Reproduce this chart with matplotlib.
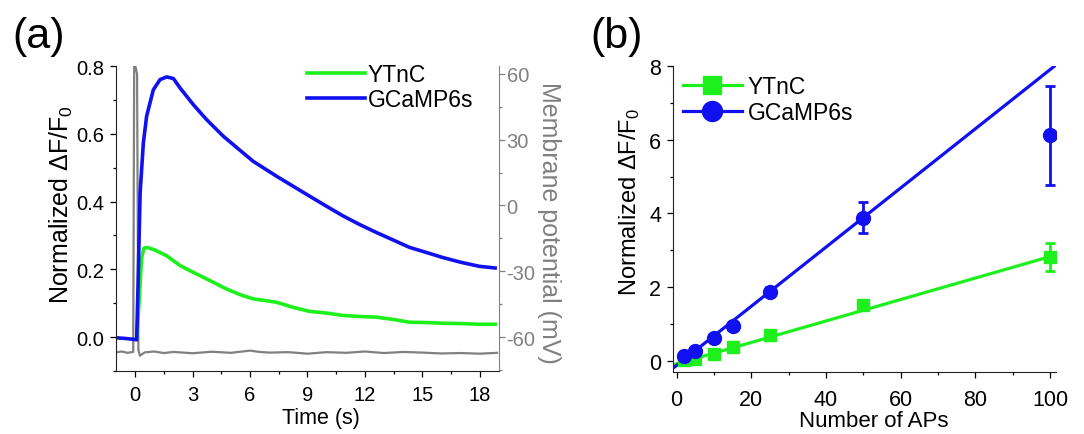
import numpy as np
import matplotlib
matplotlib.use('Agg')
import matplotlib.pyplot as plt
from matplotlib.ticker import MultipleLocator

plt.rcParams['font.family'] = ['Liberation Sans', 'DejaVu Sans']
plt.rcParams['mathtext.fontset'] = 'custom'
plt.rcParams['mathtext.rm'] = 'Liberation Sans'
plt.rcParams['mathtext.it'] = 'Liberation Sans:italic'
plt.rcParams['mathtext.bf'] = 'Liberation Sans:bold'
plt.rcParams['axes.unicode_minus'] = False

GREEN = '#1ef01e'
BLUE = '#1010f0'
GRAY = '#808080'

# ---- panel (a): averaged traces ----
t_gcamp = [-1.0, -0.5, 0.0, 0.08, 0.15, 0.26, 0.43, 0.6, 0.95, 1.3, 1.65, 2.0,
           2.35, 3.04, 3.73, 4.6, 5.4, 6.16, 7.38, 8.2, 9.11, 10.0, 10.85,
           11.7, 12.59, 13.5, 14.32, 15.2, 16.06, 17.0, 17.97, 18.8]
v_gcamp = [-0.002, -0.004, -0.007, -0.008, 0.15, 0.426, 0.574, 0.652, 0.73, 0.76,
           0.768, 0.763, 0.735, 0.686, 0.642, 0.593, 0.555, 0.519, 0.475, 0.447,
           0.416, 0.386, 0.358, 0.333, 0.309, 0.286, 0.265, 0.25, 0.235, 0.221,
           0.209, 0.204]

t_ytnc = [0.08, 0.2, 0.33, 0.45, 0.6, 1.0, 1.65, 2.35, 3.04, 3.9, 4.77, 5.5,
          6.16, 7.38, 8.24, 9.11, 10.0, 10.85, 11.7, 12.59, 13.5, 14.32, 15.2,
          16.06, 17.0, 17.97, 18.8]
v_ytnc = [-0.005, 0.1, 0.23, 0.262, 0.265, 0.258, 0.24, 0.211, 0.191, 0.167,
          0.142, 0.125, 0.113, 0.103, 0.088, 0.076, 0.071, 0.064, 0.061, 0.059,
          0.052, 0.044, 0.043, 0.041, 0.040, 0.038, 0.038]

t_vm = [-1.0, -0.7, -0.4, -0.1, -0.05, 0.0, 0.1, 0.17, 0.25, 0.5, 1.0, 1.5, 2.0,
        3.0, 4.0, 5.0, 6.0, 6.5, 7.0, 8.0, 9.0, 10.0, 11.0, 12.0, 13.0, 14.0,
        15.0, 16.0, 17.0, 18.0, 18.9]
v_vm = [-67.0, -66.6, -67.2, -66.8, 64.0, 64.0, 60.0, -66.0, -68.5, -67.0, -66.6,
        -67.3, -66.8, -67.4, -66.7, -67.2, -66.2, -66.8, -67.1, -66.9, -67.6,
        -66.9, -67.2, -66.6, -67.3, -66.8, -67.1, -67.5, -67.3, -67.6, -67.2]

# ---- panel (b): peak response vs number of APs ----
n_aps = [2, 5, 10, 15, 25, 50, 100]
ytnc_mean = [0.03, 0.06, 0.18, 0.38, 0.70, 1.52, 2.83]
ytnc_err = [0.03, 0.04, 0.06, 0.08, 0.08, 0.10, 0.38]
gcamp_mean = [0.14, 0.27, 0.61, 0.95, 1.88, 3.89, 6.12]
gcamp_err = [0.05, 0.06, 0.08, 0.10, 0.12, 0.41, 1.34]
# linear fits (slope, intercept) and their drawn x range
ytnc_fit = [0.0291, -0.08]
gcamp_fit = [0.0802, -0.12]
ytnc_fit_range = [-0.7, 100]
gcamp_fit_range = [-0.5, 102]

TICK = 14.5
LAB = 15.5
LEG = 16.5

fig = plt.figure(figsize=(10.84, 4.35), dpi=100)

# ---------------- (a) ----------------
ax = fig.add_axes([0.107, 0.1448, 0.3533, 0.7011])
axr = ax.twinx()
ax.set_zorder(axr.get_zorder() + 1)
ax.patch.set_visible(False)

axr.plot(t_vm, v_vm, color=GRAY, lw=1.6)
ax.plot(t_ytnc, v_ytnc, color=GREEN, lw=2.6, label='YTnC')
ax.plot(t_gcamp, v_gcamp, color=BLUE, lw=2.6, label='GCaMP6s')

ax.set_xlim(-1, 19)
ax.set_ylim(-0.1, 0.8)
axr.set_ylim(-75.5, 63.6)
ax.xaxis.set_major_locator(MultipleLocator(3))
ax.xaxis.set_minor_locator(MultipleLocator(1.5))
ax.yaxis.set_major_locator(MultipleLocator(0.2))
ax.yaxis.set_minor_locator(MultipleLocator(0.1))
axr.yaxis.set_major_locator(MultipleLocator(30))
axr.yaxis.set_minor_locator(MultipleLocator(15))
ax.yaxis.set_major_formatter(plt.FuncFormatter(lambda v, p: f'{v:.1f}'))

for a in (ax, axr):
    a.spines['top'].set_visible(False)
ax.spines['right'].set_visible(False)
axr.spines['left'].set_visible(False)
axr.spines['bottom'].set_visible(False)
axr.spines['right'].set_color(GRAY)
for s in ('left', 'bottom'):
    ax.spines[s].set_color('#222222')
ax.tick_params(which='major', length=4.5, width=0.9, labelsize=TICK, pad=4)
ax.tick_params(which='minor', length=2.5, width=0.9)
ax.tick_params(axis='x', pad=5.5)
axr.tick_params(which='major', length=4.5, width=0.9, labelsize=TICK,
                colors=GRAY, labelcolor=GRAY, pad=1)
axr.tick_params(which='minor', length=2.5, width=0.9, colors=GRAY)

ax.set_xlabel('Time (s)', fontsize=LAB)
ax.xaxis.set_label_coords(0.535, -0.118)
ax.set_ylabel(r'Normalized $\Delta$F/F$_0$', fontsize=18)
ax.yaxis.set_label_coords(-0.108, 0.55)
# right-hand axis title, placed by hand next to the gray tick labels
fig.text(0.5065, 0.487, 'Membrane potential (mV)', fontsize=18, color=GRAY,
         rotation=270, ha='center', va='center')

ax.legend(loc='upper left', bbox_to_anchor=(0.4987, 1.01), frameon=False,
          fontsize=LEG, handlelength=2.55, handletextpad=0.1,
          labelspacing=0.1, borderpad=0, borderaxespad=0)

fig.text(0.011, 0.915, '(a)', fontsize=31, va='center', ha='left')

# ---------------- (b) ----------------
bx = fig.add_axes([0.6208, 0.1425, 0.3533, 0.7034])

xf = np.array(ytnc_fit_range)
bx.plot(xf, ytnc_fit[0] * xf + ytnc_fit[1], color=GREEN, lw=2.3, zorder=2)
xf = np.array(gcamp_fit_range)
bx.plot(xf, gcamp_fit[0] * xf + gcamp_fit[1], color=BLUE, lw=2.3, zorder=2)

bx.errorbar(n_aps, ytnc_mean, yerr=ytnc_err, fmt='s', color=GREEN, ms=9,
            elinewidth=2, capsize=3.5, capthick=2, zorder=3)
bx.errorbar(n_aps, gcamp_mean, yerr=gcamp_err, fmt='o', color=BLUE, ms=10,
            elinewidth=2, capsize=3.5, capthick=2, zorder=4)

bx.set_xlim(-1, 101.6)
bx.set_ylim(-0.3, 8)
bx.xaxis.set_major_locator(MultipleLocator(20))
bx.xaxis.set_minor_locator(MultipleLocator(10))
bx.yaxis.set_major_locator(MultipleLocator(2))
bx.yaxis.set_minor_locator(MultipleLocator(1))
bx.spines['top'].set_visible(False)
bx.spines['right'].set_visible(False)
for s in ('left', 'bottom'):
    bx.spines[s].set_color('#222222')
bx.tick_params(which='major', length=4.5, width=0.9, labelsize=15.5, pad=4)
bx.tick_params(which='minor', length=2.5, width=0.9)
bx.tick_params(axis='x', pad=8)
bx.set_xlabel('Number of APs', fontsize=16)
bx.xaxis.set_label_coords(0.525, -0.125)
bx.set_ylabel(r'Normalized $\Delta$F/F$_0$', fontsize=17)
bx.yaxis.set_label_coords(-0.08, 0.56)

h1, = bx.plot([], [], '-s', color=GREEN, lw=2.3, ms=13.4)
h2, = bx.plot([], [], '-o', color=BLUE, lw=2.3, ms=14.4)
bx.legend([h1, h2], ['YTnC', 'GCaMP6s'], loc='upper left',
          bbox_to_anchor=(0.026, 0.972), frameon=False, fontsize=LEG,
          handlelength=2.58, handletextpad=0.26, labelspacing=0.13,
          borderpad=0, borderaxespad=0)

fig.text(0.545, 0.915, '(b)', fontsize=31, va='center', ha='left')

fig.savefig('out.png', dpi=100)
